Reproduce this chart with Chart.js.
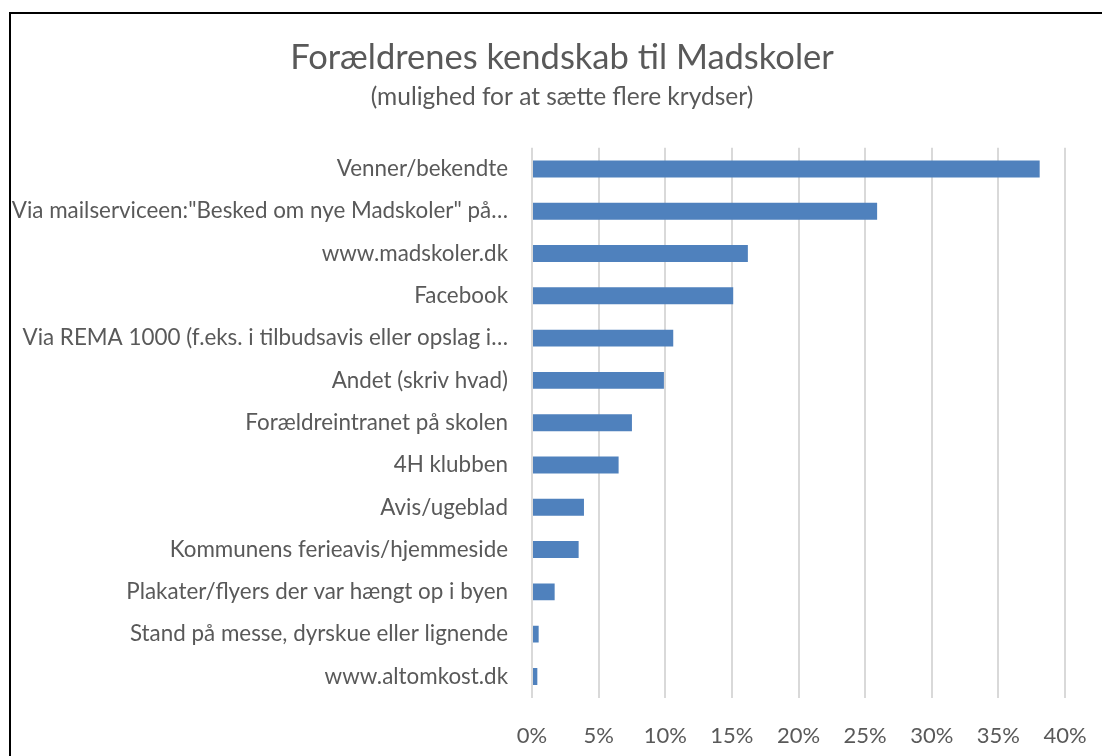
<!DOCTYPE html>
<html>
<head>
<meta charset="utf-8">
<script src="https://cdn.jsdelivr.net/npm/chart.js@4"></script>
<style>
  html, body { margin: 0; padding: 0; background: #fff; overflow: hidden; }
  #frame { position: absolute; left: 9px; top: 12px; width: 1300px; height: 1000px; border: 2px solid #000; }
  #wrap { position: absolute; left: 0; top: 0; width: 1124px; height: 756px; overflow: hidden; }
</style>
</head>
<body>
<div id="frame"></div>
<div id="wrap"><canvas id="myChart" width="1124" height="774"></canvas></div>
<script>
// categories as shown (Excel truncated the long ones)
const categories = [
  "Venner/bekendte",
  "Via mailserviceen:\"Besked om nye Madskoler\" på…",
  "www.madskoler.dk",
  "Facebook",
  "Via REMA 1000 (f.eks. i tilbudsavis eller opslag i…",
  "Andet (skriv hvad)",
  "Forældreintranet på skolen",
  "4H klubben",
  "Avis/ugeblad",
  "Kommunens ferieavis/hjemmeside",
  "Plakater/flyers der var hængt op i byen",
  "Stand på messe, dyrskue eller lignende",
  "www.altomkost.dk"
];
// percent of parents
const shares = [38.1, 25.9, 16.2, 15.1, 10.6, 9.9, 7.5, 6.5, 3.9, 3.5, 1.7, 0.5, 0.4];
const xTicks = [0, 5, 10, 15, 20, 25, 30, 35, 40];

const textColor = '#595959';
const fontFam = 'Lato, "Open Sans", sans-serif';

const ctx = document.getElementById('myChart').getContext('2d');
new Chart(ctx, {
  type: 'bar',
  data: {
    labels: categories,
    datasets: [{
      data: shares,
      backgroundColor: '#4F81BD',
      borderWidth: 0,
      barPercentage: 0.5,
      categoryPercentage: 0.8
    }]
  },
  options: {
    indexAxis: 'y',
    responsive: false,
    animation: false,
    devicePixelRatio: 1,
    layout: { padding: 0 },
    plugins: {
      legend: { display: false },
      tooltip: { enabled: false },
      title: {
        display: true,
        text: 'Forældrenes kendskab til Madskoler',
        color: textColor,
        font: { family: fontFam, size: 34.5, weight: 'normal', lineHeight: 1.2 },
        padding: { top: 37, bottom: 4 }
      },
      subtitle: {
        display: true,
        text: '(mulighed for at sætte flere krydser)',
        color: textColor,
        font: { family: fontFam, size: 24.5, weight: 'normal', lineHeight: 1.2 },
        padding: { top: 0, bottom: 36 }
      }
    },
    scales: {
      x: {
        min: 0,
        max: 40,
        afterBuildTicks: (s) => { s.ticks = xTicks.map(v => ({ value: v })); },
        grid: { color: '#d9d9d9', lineWidth: 2, drawTicks: false },
        border: { display: false },
        ticks: {
          color: textColor,
          padding: 25,
          maxRotation: 0,
          font: { family: fontFam, size: 22 },
          callback: (v) => v + '%'
        }
      },
      y: {
        grid: { display: false, drawTicks: false },
        border: { display: false },
        afterFit: (s) => { s.width = 532; },
        ticks: {
          color: textColor,
          padding: 24,
          autoSkip: false,
          font: { family: fontFam, size: 22.4 }
        }
      },
      // empty box on the right, keeps the title centred over the whole chart
      yRight: {
        type: 'category',
        position: 'right',
        grid: { display: false, drawTicks: false },
        border: { display: false },
        ticks: { display: false },
        afterFit: (s) => { s.width = 59; }
      }
    }
  }
});
</script>
</body>
</html>
